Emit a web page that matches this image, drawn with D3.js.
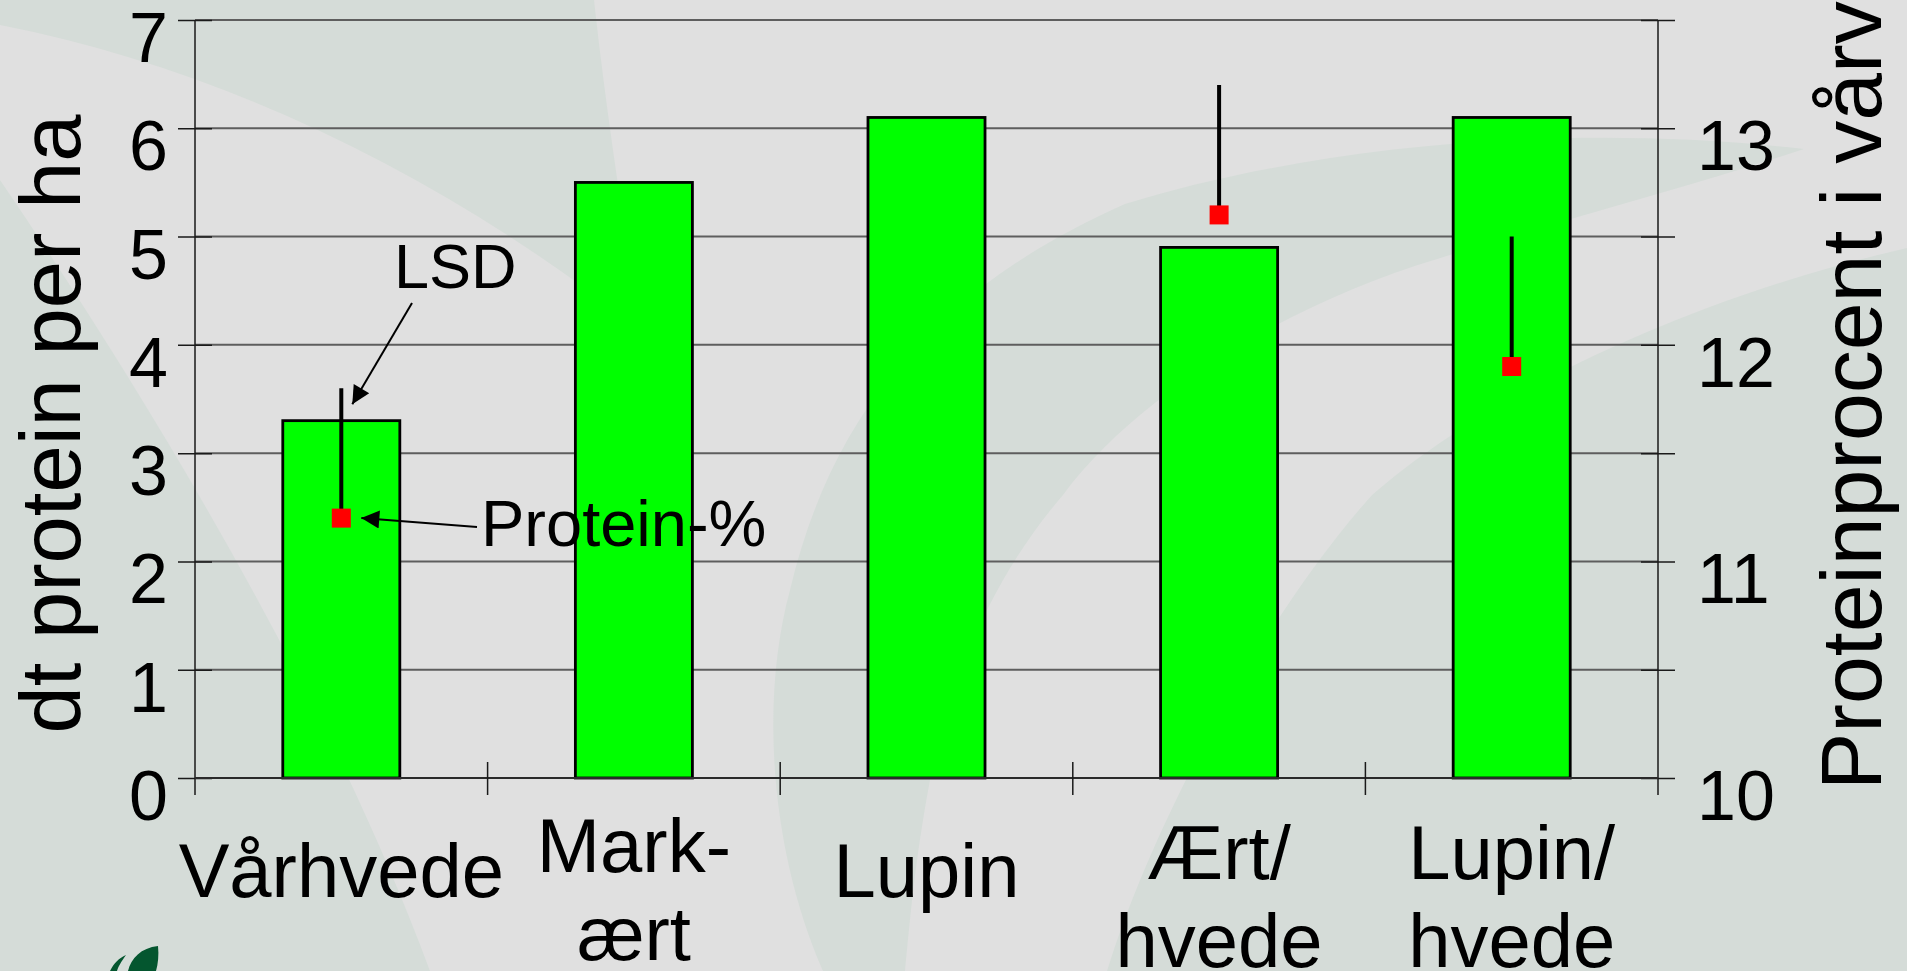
<!DOCTYPE html>
<html>
<head>
<meta charset="utf-8">
<script src="https://cdn.jsdelivr.net/npm/d3@7"></script>
<style>
  body { margin: 0; background: #e0e0e0; }
  svg { display: block; }
  text { font-family: "Liberation Sans", Arial, sans-serif; fill: #000; }
</style>
</head>
<body>
<div id="wrapper"></div>
<script>
// data
const categories = ["Vårhvede", "Mark-ært", "Lupin", "Ært/hvede", "Lupin/hvede"]
const categoryLines = [["Vårhvede"], ["Mark-", "ært"], ["Lupin"], ["Ært/", "hvede"], ["Lupin/", "hvede"]]
const proteinYield = [3.3, 5.5, 6.1, 4.9, 6.1]          // dt protein per ha (bars)
const proteinPercent = [11.2, null, null, 12.6, 11.9]   // protein-% in the wheat (red squares)
const lsdValues = [0.6, null, null, 0.6, 0.6]           // LSD whiskers
const leftTicks = [0, 1, 2, 3, 4, 5, 6, 7]
const rightTicks = [10, 11, 12, 13]
const rightMinorTicks = [10, 10.5, 11, 11.5, 12, 12.5, 13, 13.5]

function drawChart() {

  // 1. dimensions
  const dimensions = {
    width: 1907,
    height: 971,
    margin: { top: 20, right: 249, bottom: 193, left: 195 },
  }
  dimensions.boundedWidth = dimensions.width - dimensions.margin.left - dimensions.margin.right
  dimensions.boundedHeight = dimensions.height - dimensions.margin.top - dimensions.margin.bottom

  const left = dimensions.margin.left
  const right = left + dimensions.boundedWidth
  const top = dimensions.margin.top
  const bottom = top + dimensions.boundedHeight

  // 2. canvas
  const svg = d3.select("#wrapper")
    .append("svg")
      .attr("width", dimensions.width)
      .attr("height", dimensions.height)

  // slide template background
  const bg = svg.append("g")
  bg.append("rect")
    .attr("width", dimensions.width)
    .attr("height", dimensions.height)
    .attr("fill", "#e0e0e0")
  const dark = "#d5dcd8"
  const swooshes = [
    // top-left leaf
    "M0,0 L594,0 C605,100 620,200 640,330 C450,180 230,70 0,25 Z",
    // bottom-left
    "M0,180 C150,400 330,700 430,971 L0,971 Z",
    // big crescent on the right
    "M823,971 C770,850 760,700 790,590 C830,420 930,290 1125,204 C1300,150 1550,120 1804,149 " +
      "C1680,190 1560,220 1434,260 C1300,300 1140,390 1063,495 C990,580 950,680 930,780 C915,860 910,920 905,971 Z",
    // bottom-right
    "M1107,971 C1150,830 1260,620 1372,495 C1480,400 1680,300 1907,248 L1907,971 Z",
  ]
  bg.selectAll("path.swoosh")
    .data(swooshes)
    .join("path")
      .attr("class", "swoosh")
      .attr("d", d => d)
      .attr("fill", dark)

  // logo fragment in the corner
  bg.append("path")
    .attr("d", "M128,971 C131,958 141,948 158,946 C159,955 158,964 156,971 Z M110,971 C114,963 119,958 126,955 C121,962 118,967 117,971 Z")
    .attr("fill", "#04562f")

  // 3. scales
  const xScale = d3.scaleBand()
    .domain(categories)
    .range([left, right])
    .paddingInner(0.6)
    .paddingOuter(0.3)

  const yScale = d3.scaleLinear()
    .domain([0, 7])
    .range([bottom, top])

  const y2Scale = d3.scaleLinear()
    .domain([10, 13.5])
    .range([bottom, top])

  // 4. gridlines
  const grid = svg.append("g")
  grid.selectAll("line")
    .data(leftTicks)
    .join("line")
      .attr("x1", left)
      .attr("x2", right)
      .attr("y1", d => yScale(d))
      .attr("y2", d => yScale(d))
      .attr("stroke", "#5e5e5e")
      .attr("stroke-width", 2)

  // 5. bars
  svg.append("g")
    .selectAll("rect")
    .data(proteinYield)
    .join("rect")
      .attr("x", (d, i) => xScale(categories[i]))
      .attr("y", d => yScale(d))
      .attr("width", xScale.bandwidth())
      .attr("height", d => yScale(0) - yScale(d))
      .attr("fill", "#00ff00")
      .attr("stroke", "#000")
      .attr("stroke-width", 2.8)

  // 6. axes
  const axisColor = "#1a1a1a"
  const yAxis = svg.append("g")
    .attr("transform", `translate(${left},0)`)
    .call(d3.axisLeft(yScale).tickValues(leftTicks).tickSize(17).tickFormat(""))
  yAxis.select(".domain").remove()
  yAxis.selectAll(".tick line").attr("x2", 17).attr("x1", -17).attr("stroke", axisColor).attr("stroke-width", 1.5)

  const y2Axis = svg.append("g")
    .attr("transform", `translate(${right},0)`)
    .call(d3.axisRight(y2Scale).tickValues(rightMinorTicks).tickSize(17).tickFormat(""))
  y2Axis.select(".domain").remove()
  y2Axis.selectAll(".tick line").attr("x1", -17).attr("stroke", axisColor).attr("stroke-width", 1.5)

  svg.append("g")
    .selectAll("line")
    .data([left, right])
    .join("line")
      .attr("x1", d => d)
      .attr("x2", d => d)
      .attr("y1", top)
      .attr("y2", bottom + 17)
      .attr("stroke", axisColor)
      .attr("stroke-width", 1.5)

  svg.append("line")
    .attr("x1", left)
    .attr("x2", right)
    .attr("y1", bottom)
    .attr("y2", bottom)
    .attr("stroke", "#2a2a2a")
    .attr("stroke-width", 2)

  // category separators
  const boundaries = categories.map(c => xScale(c) - xScale.bandwidth() * 0.75).slice(1)
  svg.append("g")
    .selectAll("line")
    .data(boundaries)
    .join("line")
      .attr("x1", d => d)
      .attr("x2", d => d)
      .attr("y1", bottom - 16)
      .attr("y2", bottom + 17)
      .attr("stroke", axisColor)
      .attr("stroke-width", 1.5)

  // tick labels
  svg.append("g")
    .selectAll("text")
    .data(leftTicks)
    .join("text")
      .attr("x", left - 27)
      .attr("y", d => yScale(d) + 42)
      .attr("text-anchor", "end")
      .style("font-size", "70px")
      .text(d => d)

  svg.append("g")
    .selectAll("text")
    .data(rightTicks)
    .join("text")
      .attr("x", right + 39)
      .attr("y", d => y2Scale(d) + 42)
      .style("font-size", "70px")
      .text(d => d)

  // category labels (Mark-ært wraps a little higher than the forced breaks)
  const labels = svg.append("g")
  categoryLines.forEach((lines, i) => {
    const cx = xScale(categories[i]) + xScale.bandwidth() / 2
    let baseY = lines.length === 1 ? 897 : 879
    if (i === 1) baseY = 872
    lines.forEach((line, j) => {
      labels.append("text")
        .attr("x", cx)
        .attr("y", baseY + j * 88)
        .attr("text-anchor", "middle")
        .style("font-size", "76px")
        .text(line)
    })
  })

  // axis titles
  svg.append("text")
    .attr("transform", `translate(80, ${(top + bottom) / 2 + 25}) rotate(-90)`)
    .attr("text-anchor", "middle")
    .style("font-size", "85px")
    .text("dt protein per ha")

  svg.append("text")
    .attr("transform", `translate(1881, ${bottom + 12}) rotate(-90)`)
    .style("font-size", "86px")
    .text("Proteinprocent i vårvede")

  // 7. protein-% with LSD
  const cx = i => xScale(categories[i]) + xScale.bandwidth() / 2
  const pct = proteinPercent.map((p, i) => ({ p, lsd: lsdValues[i], i })).filter(d => d.p !== null)

  svg.append("g")
    .selectAll("line")
    .data(pct)
    .join("line")
      .attr("x1", d => cx(d.i))
      .attr("x2", d => cx(d.i))
      .attr("y1", d => y2Scale(d.p))
      .attr("y2", d => y2Scale(d.p + d.lsd))
      .attr("stroke", "#000")
      .attr("stroke-width", 4)

  svg.append("g")
    .selectAll("rect")
    .data(pct)
    .join("rect")
      .attr("x", d => cx(d.i) - 9.5)
      .attr("y", d => y2Scale(d.p) - 9.5)
      .attr("width", 19)
      .attr("height", 19)
      .attr("fill", "#ff0000")

  // 8. annotations
  svg.append("defs").append("marker")
    .attr("id", "arrow")
    .attr("viewBox", "0 0 10 10")
    .attr("refX", 10)
    .attr("refY", 5)
    .attr("markerUnits", "userSpaceOnUse")
    .attr("markerWidth", 26)
    .attr("markerHeight", 18)
    .attr("orient", "auto")
    .append("path")
      .attr("d", "M0,0 L10,5 L0,10 Z")
      .attr("fill", "#000")

  const first = pct[0]
  const lsdTop = y2Scale(first.p + first.lsd)
  svg.append("line")
    .attr("x1", 412).attr("y1", 303)
    .attr("x2", cx(first.i) + 11).attr("y2", lsdTop + 16)
    .attr("stroke", "#000").attr("stroke-width", 2)
    .attr("marker-end", "url(#arrow)")

  svg.append("text")
    .attr("x", 394)
    .attr("y", 288)
    .style("font-size", "63px")
    .text("LSD")

  svg.append("line")
    .attr("x1", 477).attr("y1", 527)
    .attr("x2", cx(first.i) + 20).attr("y2", y2Scale(first.p))
    .attr("stroke", "#000").attr("stroke-width", 2)
    .attr("marker-end", "url(#arrow)")

  svg.append("text")
    .attr("x", 481)
    .attr("y", 546)
    .style("font-size", "65px")
    .text("Protein-%")
}
drawChart()
</script>
</body>
</html>
